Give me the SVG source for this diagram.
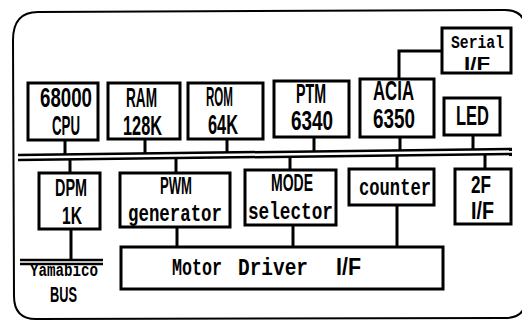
<svg xmlns="http://www.w3.org/2000/svg" width="522" height="323" viewBox="0 0 522 323">
<style>
.box{fill:#fff;stroke:#000;stroke-width:3}
.ln{fill:none;stroke:#000;stroke-width:3}
.bus{fill:none;stroke:#000;stroke-width:2.5}
.frame{fill:none;stroke:#000;stroke-width:2}
.t{font-family:"Liberation Sans",Arial,sans-serif;font-weight:bold;font-size:27px;fill:#000}
.s{font-size:23px}
.m{font-family:"Liberation Mono","Courier New",monospace;font-weight:bold;font-size:23px;fill:#000}
</style>
<rect width="522" height="323" fill="#fff"/>
<path class="frame" d="M13 40 Q13 12 38 12 L505 10 Q526 10 526 32 L526 298 Q526 318 505 318 L36 319 Q14 319 14 296 Z"/>
<g id="connectors">
<line class="bus" x1="18" y1="155" x2="512" y2="149"/>
<line class="bus" x1="18" y1="160" x2="512" y2="154"/>
<line class="ln" x1="65" y1="140" x2="65" y2="155"/>
<line class="ln" x1="145" y1="139" x2="145" y2="154"/>
<line class="ln" x1="227" y1="139" x2="227" y2="153"/>
<line class="ln" x1="314" y1="137" x2="314" y2="152"/>
<line class="ln" x1="400" y1="137" x2="400" y2="151"/>
<line class="ln" x1="473" y1="135" x2="473" y2="150"/>
<line class="ln" x1="70" y1="159" x2="70" y2="173"/>
<line class="ln" x1="176" y1="158" x2="176" y2="173"/>
<line class="ln" x1="290" y1="156" x2="290" y2="170"/>
<line class="ln" x1="397" y1="155" x2="397" y2="169"/>
<line class="ln" x1="485" y1="154" x2="485" y2="169"/>
<polyline class="ln" points="399,79 399,51 442,51"/>
<line class="ln" x1="177" y1="227" x2="177" y2="247"/>
<line class="ln" x1="293" y1="225" x2="293" y2="247"/>
<line class="ln" x1="397" y1="205" x2="397" y2="247"/>
<line class="ln" x1="71" y1="229" x2="71" y2="261"/>
<line class="bus" x1="20" y1="260" x2="103" y2="260"/>
<line class="bus" x1="20" y1="264" x2="103" y2="264"/>
</g>
<g id="cpu"><rect class="box" x="28" y="83" width="70" height="57"/>
<text class="t" x="40" y="107" textLength="52" lengthAdjust="spacingAndGlyphs">68000</text>
<text class="t" x="52" y="135" textLength="28" lengthAdjust="spacingAndGlyphs">CPU</text></g>
<g id="ram"><rect class="box" x="108" y="83" width="72" height="56"/>
<text class="t" x="126" y="107" textLength="31" lengthAdjust="spacingAndGlyphs">RAM</text>
<text class="t" x="123" y="135" textLength="39" lengthAdjust="spacingAndGlyphs">128K</text></g>
<g id="rom"><rect class="box" x="188" y="83" width="75" height="56"/>
<text class="t" x="206" y="106" textLength="27" lengthAdjust="spacingAndGlyphs">ROM</text>
<text class="t" x="208" y="134" textLength="30" lengthAdjust="spacingAndGlyphs">64K</text></g>
<g id="ptm"><rect class="box" x="274" y="81" width="75" height="56"/>
<text class="t" x="296" y="103" textLength="30" lengthAdjust="spacingAndGlyphs">PTM</text>
<text class="t" x="291" y="130" textLength="42" lengthAdjust="spacingAndGlyphs">6340</text></g>
<g id="acia"><rect class="box" x="360" y="79" width="74" height="58"/>
<text class="t" x="373" y="100" textLength="41" lengthAdjust="spacingAndGlyphs">ACIA</text>
<text class="t" x="373" y="128" textLength="42" lengthAdjust="spacingAndGlyphs">6350</text></g>
<g id="serial"><rect class="box" x="442" y="28" width="69" height="45"/>
<text class="m" x="451" y="48" textLength="53" lengthAdjust="spacingAndGlyphs" style="font-size:18px">Serial</text>
<text class="t" x="464" y="70" textLength="26" lengthAdjust="spacingAndGlyphs" style="font-size:18px">I/F</text></g>
<g id="led"><rect class="box" x="444" y="98" width="56" height="37"/>
<text class="t" x="456" y="125" textLength="33" lengthAdjust="spacingAndGlyphs">LED</text></g>
<g id="dpm"><rect class="box" x="39" y="173" width="61" height="56"/>
<text class="t s" x="55" y="196" textLength="32" lengthAdjust="spacingAndGlyphs">DPM</text>
<text class="t s" x="62" y="224" textLength="20" lengthAdjust="spacingAndGlyphs">1K</text></g>
<g id="pwm"><rect class="box" x="120" y="173" width="110" height="54"/>
<text class="t s" x="160" y="194" textLength="32" lengthAdjust="spacingAndGlyphs">PWM</text>
<text class="m" x="128" y="221" textLength="94" lengthAdjust="spacingAndGlyphs">generator</text></g>
<g id="mode"><rect class="box" x="245" y="170" width="91" height="55"/>
<text class="t s" x="271" y="191" textLength="42" lengthAdjust="spacingAndGlyphs">MODE</text>
<text class="m" x="248" y="219" textLength="85" lengthAdjust="spacingAndGlyphs">selector</text></g>
<g id="counter"><rect class="box" x="349" y="169" width="85" height="36"/>
<text class="m" x="359" y="195" textLength="72" lengthAdjust="spacingAndGlyphs">counter</text></g>
<g id="twof"><rect class="box" x="455" y="169" width="56" height="55"/>
<text class="t s" x="471" y="193" textLength="20" lengthAdjust="spacingAndGlyphs">2F</text>
<text class="t s" x="471" y="219" textLength="23" lengthAdjust="spacingAndGlyphs">I/F</text></g>
<g id="motor"><rect class="box" x="121" y="247" width="322" height="42"/>
<text class="m" y="275"><tspan x="172" textLength="50" lengthAdjust="spacingAndGlyphs">Motor</tspan> <tspan x="238" textLength="70" lengthAdjust="spacingAndGlyphs">Driver</tspan> <tspan x="336" textLength="25" lengthAdjust="spacingAndGlyphs" class="t" style="font-size:24px">I/F</tspan></text></g>
<g id="yamabico">
<text class="m" x="30" y="276" textLength="68" lengthAdjust="spacingAndGlyphs" style="font-size:18px">Yamabico</text>
<text class="t" x="50" y="302" textLength="27" lengthAdjust="spacingAndGlyphs" style="font-size:22px">BUS</text></g>
</svg>
